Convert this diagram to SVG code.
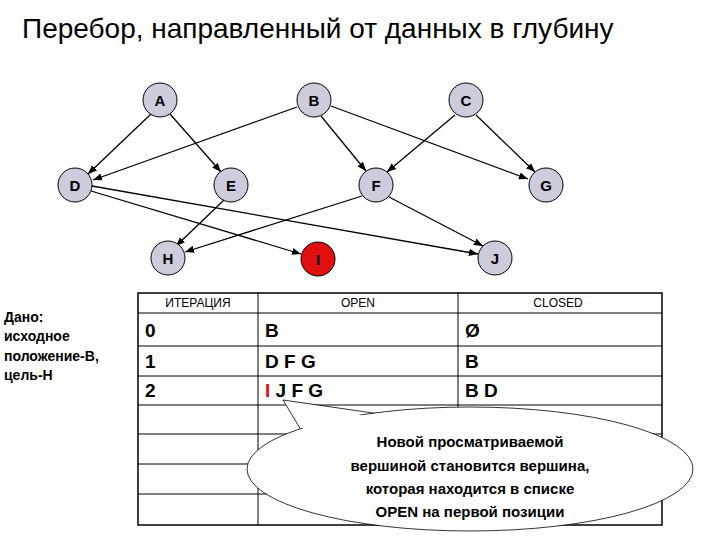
<svg xmlns="http://www.w3.org/2000/svg" width="720" height="540" viewBox="0 0 720 540">
<style>
text{font-family:"Liberation Sans",Arial,sans-serif}
.n circle{fill:#ccccdd;stroke:#000;stroke-width:1}
.n text{font-size:15px;font-weight:bold;text-anchor:middle}
.e line{stroke:#000;stroke-width:1.3;marker-end:url(#ah)}
.g line{stroke:#000;stroke-width:1}
.h{font-size:12px;text-anchor:middle}
.c{font-size:19px;font-weight:bold}
.l{font-size:14px;font-weight:bold}
</style>
<defs><marker id="ah" viewBox="0 0 10 10" refX="10" refY="5" markerWidth="7" markerHeight="7" orient="auto"><path d="M0,1 L10,5 L0,9 z"/></marker></defs>
<rect width="720" height="540" fill="#fff"/>
<text x="22" y="38" font-size="28">Перебор, направленный от данных в глубину</text>
<g id="edges" class="e">
<line x1="151" y1="114" x2="88" y2="174"/>
<line x1="170" y1="114" x2="221" y2="172"/>
<line x1="297" y1="107" x2="93" y2="180"/>
<line x1="321" y1="116" x2="366" y2="171"/>
<line x1="331" y1="106" x2="528" y2="179"/>
<line x1="455" y1="115" x2="387" y2="172"/>
<line x1="476" y1="115" x2="535" y2="172"/>
<line x1="91" y1="191" x2="301" y2="254"/>
<line x1="92" y1="186" x2="478" y2="254"/>
<line x1="224" y1="200" x2="176" y2="246"/>
<line x1="362" y1="196" x2="185" y2="252"/>
<line x1="389" y1="197" x2="483" y2="246"/>
</g>
<g id="A" class="n"><circle cx="160" cy="100" r="17"/><text x="160" y="106">A</text></g>
<g id="B" class="n"><circle cx="314" cy="100" r="17"/><text x="314" y="106">B</text></g>
<g id="C" class="n"><circle cx="466" cy="100" r="17"/><text x="466" y="106">C</text></g>
<g id="D" class="n"><circle cx="75" cy="185" r="17"/><text x="75" y="191">D</text></g>
<g id="E" class="n"><circle cx="231" cy="185" r="17"/><text x="231" y="191">E</text></g>
<g id="F" class="n"><circle cx="376" cy="185" r="17"/><text x="376" y="191">F</text></g>
<g id="G" class="n"><circle cx="546" cy="185" r="17"/><text x="546" y="191">G</text></g>
<g id="H" class="n"><circle cx="168" cy="258" r="17"/><text x="168" y="264">H</text></g>
<g id="I" class="n"><circle cx="318" cy="259" r="17" style="fill:#e01010"/><text x="318" y="265">I</text></g>
<g id="J" class="n"><circle cx="495" cy="258" r="17"/><text x="495" y="264">J</text></g>
<g id="table">
<g class="g">
<rect x="138" y="293" width="524" height="232" fill="none" stroke="#000" stroke-width="1.5"/>
<line x1="258" y1="293" x2="258" y2="525"/>
<line x1="458" y1="293" x2="458" y2="525"/>
<line x1="138" y1="313" x2="662" y2="313"/>
<line x1="138" y1="346" x2="662" y2="346"/>
<line x1="138" y1="376" x2="662" y2="376"/>
<line x1="138" y1="405" x2="662" y2="405"/>
<line x1="138" y1="434" x2="662" y2="434"/>
<line x1="138" y1="464" x2="662" y2="464"/>
<line x1="138" y1="494" x2="662" y2="494"/>
</g>
<text class="h" x="198" y="307">ИТЕРАЦИЯ</text>
<text class="h" x="358" y="307">OPEN</text>
<text class="h" x="558" y="307">CLOSED</text>
<text class="c" x="145" y="337">0</text>
<text class="c" x="265" y="337">B</text>
<text class="c" x="465" y="337">Ø</text>
<text class="c" x="145" y="368">1</text>
<text class="c" x="265" y="368">D F G</text>
<text class="c" x="465" y="368">B</text>
<text class="c" x="145" y="397">2</text>
<text class="c" x="265" y="397"><tspan fill="#e01010">I</tspan> J F G</text>
<text class="c" x="465" y="397">B D</text>
</g>
<g id="given" class="l">
<text x="4" y="322">Дано:</text>
<text x="4" y="341">исходное</text>
<text x="4" y="361">положение-В,</text>
<text x="4" y="380">цель-Н</text>
</g>
<g id="callout">
<path d="M307,440 L283,400 L380,414" fill="#fff" stroke="#000" stroke-width="0.8"/>
<ellipse cx="470" cy="469" rx="223" ry="62" fill="#fff" stroke="#000" stroke-width="0.8"/>
<path d="M310,441 L290,406 L382,418 Z" fill="#fff"/>
<g font-size="15" font-weight="bold" text-anchor="middle">
<text x="470" y="447">Новой просматриваемой</text>
<text x="470" y="471">вершиной становится вершина,</text>
<text x="470" y="494">которая находится в списке</text>
<text x="470" y="517">OPEN на первой позиции</text>
</g>
</g>
</svg>
